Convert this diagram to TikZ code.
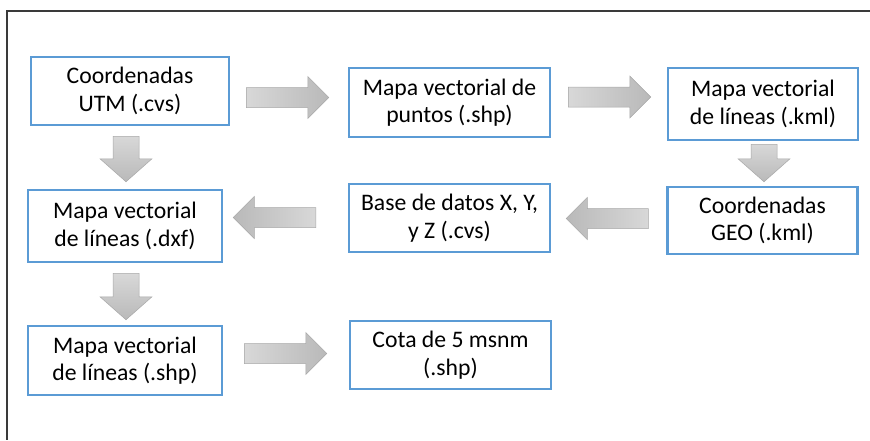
\documentclass[tikz,border=0pt]{standalone}
\usepackage{fontspec}
\setmainfont{Carlito}
\usetikzlibrary{calc}
\definecolor{boxblue}{HTML}{5B9BD5}
\definecolor{arrlight}{HTML}{D8D8D8}
\definecolor{arrdark}{HTML}{B9B9B9}
\definecolor{arredge}{HTML}{A8A8A8}
\definecolor{framegray}{HTML}{3A3A3A}
\tikzset{
  flowbox/.style={draw=boxblue, line width=2.5pt, fill=white, rectangle, inner sep=0pt,
    align=center, font=\fontsize{23.7}{27.5}\selectfont},
  arrbase/.style={draw=arredge, line width=0.5pt},
  arrh/.style={arrbase, left color=arrlight, right color=arrdark},
  arrhl/.style={arrbase, left color=arrdark, right color=arrlight},
  arrv/.style={arrbase, top color=arrlight, bottom color=arrdark},
}
\newcommand{\rarr}[2]{\path[arrh] let \p1=(#1),\p2=(#2) in
  (\x1,{\y1+10pt}) -- ({\x2-21pt},{\y1+10pt}) -- ({\x2-21pt},{\y1+21pt}) -- (\x2,\y1)
  -- ({\x2-21pt},{\y1-21pt}) -- ({\x2-21pt},{\y1-10pt}) -- (\x1,{\y1-10pt}) -- cycle;}
\newcommand{\larr}[2]{\path[arrhl] let \p1=(#1),\p2=(#2) in
  (\x1,{\y1+10pt}) -- ({\x2+21pt},{\y1+10pt}) -- ({\x2+21pt},{\y1+21pt}) -- (\x2,\y1)
  -- ({\x2+21pt},{\y1-21pt}) -- ({\x2+21pt},{\y1-10pt}) -- (\x1,{\y1-10pt}) -- cycle;}
\newcommand{\darr}[2]{\path[arrv] let \p1=(#1),\p2=(#2) in
  ({\x1-13pt},\y1) -- ({\x1-13pt},{\y2+23pt}) -- ({\x1-26pt},{\y2+23pt}) -- (\x1,\y2)
  -- ({\x1+26pt},{\y2+23pt}) -- ({\x1+13pt},{\y2+23pt}) -- ({\x1+13pt},\y1) -- cycle;}
\begin{document}
\begin{tikzpicture}[x=1pt, y=-1pt]
\useasboundingbox (0,0) rectangle (870,440);
\fill[white] (0,0) rectangle (870,440);
\draw[framegray, line width=1.5pt] (870,11) -- (7,11) -- (7,440);

\node[flowbox, minimum width=198pt, minimum height=68pt] (b1) at (130,91) {Coordenadas\\UTM (.cvs)};
\node[flowbox, minimum width=201pt, minimum height=69pt] (b2) at (449.5,102.5) {Mapa vectorial de\\puntos (.shp)};
\node[flowbox, minimum width=190pt, minimum height=72pt] (b3) at (763,104) {Mapa vectorial\\de líneas (.kml)};
\node[flowbox, minimum width=190pt, minimum height=67pt] (geo) at (762.5,220.5) {Coordenadas\\GEO (.kml)};
\node[flowbox, minimum width=201pt, minimum height=68pt] (base) at (449.5,218) {Base de datos X, Y,\\y Z (.cvs)};
\node[flowbox, minimum width=194pt, minimum height=72pt] (dxf) at (125,226) {Mapa vectorial\\de líneas (.dxf)};
\node[flowbox, minimum width=194pt, minimum height=69pt] (shp) at (125,360.5) {Mapa vectorial\\de líneas (.shp)};
\node[flowbox, minimum width=201pt, minimum height=68pt] (cota) at (450.5,355) {Cota de 5 msnm\\(.shp)};

\coordinate (r1s) at ($(b1.east)+(16,6.5)$);
\coordinate (r1e) at ($(b2.west)+(-19,-5)$);
\coordinate (r2s) at ($(b2.east)+(17,-5.5)$);
\coordinate (r2e) at ($(b3.west)+(-16,-7)$);
\coordinate (d1s) at ($(b1.south)+(-4,10)$);
\coordinate (d1e) at ($(dxf.north)+(1,-7)$);
\coordinate (d2s) at ($(b3.south)+(1,3)$);
\coordinate (d2e) at ($(geo.north)+(1.5,-4)$);
\coordinate (l1s) at ($(geo.west)+(-18,-2)$);
\coordinate (l1e) at ($(base.east)+(15,0.5)$);
\coordinate (l2s) at ($(base.west)+(-32,-0.5)$);
\coordinate (l2e) at ($(dxf.east)+(10,-8.5)$);
\coordinate (d3s) at ($(dxf.south)+(1,10)$);
\coordinate (d3e) at ($(shp.north)+(1,-5)$);
\coordinate (r3s) at ($(shp.east)+(21,-7)$);
\coordinate (r3e) at ($(cota.west)+(-22,-1.5)$);

\rarr{r1s}{r1e}
\rarr{r2s}{r2e}
\darr{d1s}{d1e}
\darr{d2s}{d2e}
\larr{l1s}{l1e}
\larr{l2s}{l2e}
\darr{d3s}{d3e}
\rarr{r3s}{r3e}
\end{tikzpicture}
\end{document}
